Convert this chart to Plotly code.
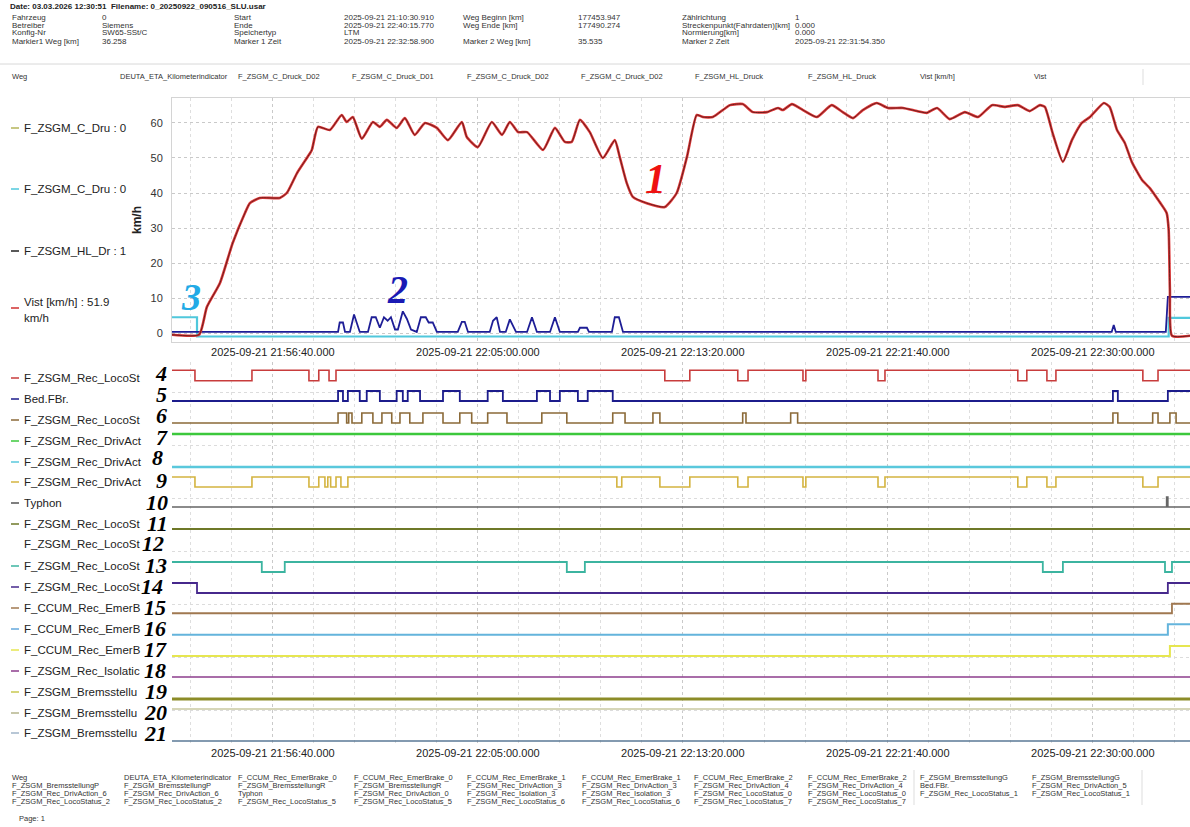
import pandas as pd
import plotly.graph_objects as go

W, H = 1190, 827
T_REF = pd.Timestamp("2025-09-21 21:56:40")
X_RANGE = ["2025-09-21 21:52:34", "2025-09-21 22:33:57"]
START_S, END_S = -246, 2237

# ---------------- upper panel data (seconds after 21:56:40) ----------------
vist_sec = [-246, -180, -161, -129, -98, -68, -56, -32, 17, 34, 59, 83, 95, 110, 139, 168, 180, 195,
            217, 244, 261, 278, 302, 322, 346, 371, 400, 427, 461, 473, 500, 534, 559, 578, 598, 620,
            659, 688, 712, 729, 749, 773, 805, 834, 846, 863, 878, 912, 956, 985, 1010, 1034, 1049,
            1073, 1115, 1146, 1171, 1205, 1232, 1244, 1266, 1293, 1327, 1363, 1390, 1415, 1439, 1473,
            1500, 1537, 1571, 1595, 1620, 1651, 1688, 1720, 1754, 1785, 1817, 1846, 1871, 1883, 1902,
            1927, 1949, 1973, 1993, 2027, 2041, 2059, 2078, 2095, 2120, 2139, 2163, 2180, 2185, 2188,
            2193, 2237]
vist_kmh = [-0.5, -0.5, 7.4, 14.3, 25.7, 34.3, 37.1, 38.6, 38.6, 40, 45.7, 50, 52.3, 58.9, 58, 62.3,
            60.3, 61.7, 55.5, 60.3, 58.9, 60.9, 58.6, 61.4, 56.6, 60, 58.6, 55.1, 60.3, 56, 53.1, 60.3,
            56.6, 60.3, 57.4, 57.4, 52.3, 58.6, 54.6, 54.6, 60.9, 57.4, 50, 55.1, 50.3, 42.9, 38.9,
            37.1, 36, 40, 50.3, 62.3, 61.7, 61.7, 65.1, 65.4, 63.1, 63.1, 64.3, 63.7, 65.4, 63.7, 61.7,
            65.1, 63.1, 61.4, 63.7, 65.7, 64.3, 64.3, 63.4, 62.9, 64.3, 61.1, 63.1, 61.7, 65.1, 64.6,
            65.1, 63.4, 65.1, 64.6, 57.1, 48.9, 55.1, 60, 61.7, 65.7, 64.6, 58, 54.3, 48.9, 43.7, 41.4,
            37.4, 34.3, 29.4, 12.3, -0.8, -0.8]

hl_sec = [-246, 159, 163, 171, 176, 188, 198, 205, 212, 232, 241, 251, 261, 271, 280, 288, 298, 305,
          317, 327, 337, 351, 361, 373, 380, 390, 400, 451, 461, 468, 476, 529, 537, 546, 554, 568,
          578, 593, 620, 632, 644, 676, 688, 700, 744, 749, 766, 771, 827, 834, 844, 854, 2046, 2051,
          2056, 2178, 2183, 2237]
hl_val = [0.3, 0.3, 3, 3, 0.3, 0.3, 5.3, 3, 0.3, 0.3, 4.5, 4.5, 1.5, 4.5, 3.5, 4.5, 1, 1,
          6.2, 4, 1, 0.3, 4.5, 4.5, 3, 3, 0.3, 0.3, 3.2, 3.2, 0.3, 0.3, 3.5, 4.5, 0.3, 0.3,
          3.9, 0.3, 0.3, 4.5, 0.3, 0.3, 4.5, 0.3, 0.3, 1.5, 1.5, 0.3, 0.3, 4.5, 4.5, 0.3, 0.3, 2.3,
          0.3, 0.3, 10.3, 10.3]

cdru_sec = [-246, -185, 2185, 2237]
cdru_val = [4.5, -1.0, 4.3, 4.3]

# ---------------- lower panel: digital signals (initial state, switching instants in s) -------
sig04_init, sig04_sw = 1, [-190, -51, 88, 112, 137, 154, 956, 1017, 1134, 1159, 1293, 1300,
                           1476, 1493, 1817, 1839, 1888, 1910, 2122, 2159]
sig05_init, sig05_sw = 0, [159, 171, 183, 212, 229, 261, 302, 317, 329, 359, 415, 456, 524, 561,
                           644, 676, 700, 744, 768, 829, 2049, 2061, 2183]
sig06_init, sig06_sw = 0, [159, 180, 185, 193, 217, 244, 266, 290, 310, 334, 366, 415, 456, 485,
                           524, 571, 656, 717, 829, 859, 927, 944, 1146, 1154, 1263, 1280, 2049,
                           2061, 2146, 2159, 2188, 2203]
sig07_init, sig07_sw = 0, []
sig08_init, sig08_sw = 0, []
sig09_init, sig09_sw = 1, [-190, -51, 88, 112, 127, 134, 141, 154, 166, 183, 839, 851, 944, 1017,
                           1134, 1159, 1293, 1300, 1476, 1493, 1817, 1839, 1888, 1910, 2122, 2159]
sig10_init, sig10_sw = 0, [2180, 2183]
sig11_init, sig11_sw = 0, []
sig13_init, sig13_sw = 1, [-27, 29, 717, 761, 1878, 1927, 2176, 2193]
sig14_init, sig14_sw = 1, [-185, 2183]
sig15_init, sig15_sw = 0, [2193]
sig16_init, sig16_sw = 0, [2183]
sig17_init, sig17_sw = 0, [2188]
sig18_init, sig18_sw = 0, []
sig19_init, sig19_sw = 0, []
sig20_init, sig20_sw = 0, []
sig21_init, sig21_sw = 0, []

row_labels = ["F_ZSGM_Rec_LocoSt", "Bed.FBr.", "F_ZSGM_Rec_LocoSt", "F_ZSGM_Rec_DrivAct",
              "F_ZSGM_Rec_DrivAct", "F_ZSGM_Rec_DrivAct", "Typhon", "F_ZSGM_Rec_LocoSt",
              "F_ZSGM_Rec_LocoSt", "F_ZSGM_Rec_LocoSt", "F_ZSGM_Rec_LocoSt", "F_CCUM_Rec_EmerB",
              "F_CCUM_Rec_EmerB", "F_CCUM_Rec_EmerB", "F_ZSGM_Rec_Isolatic", "F_ZSGM_Bremsstellu",
              "F_ZSGM_Bremsstellu", "F_ZSGM_Bremsstellu"]
signals = [(sig04_init, sig04_sw), (sig05_init, sig05_sw), (sig06_init, sig06_sw),
           (sig07_init, sig07_sw), (sig08_init, sig08_sw), (sig09_init, sig09_sw),
           (sig10_init, sig10_sw), (sig11_init, sig11_sw), None,
           (sig13_init, sig13_sw), (sig14_init, sig14_sw), (sig15_init, sig15_sw),
           (sig16_init, sig16_sw), (sig17_init, sig17_sw), (sig18_init, sig18_sw),
           (sig19_init, sig19_sw), (sig20_init, sig20_sw), (sig21_init, sig21_sw)]

header_top = "Date: 03.03.2026 12:30:51  Filename: 0_20250922_090516_SLU.usar"
header_cols = [
    ["Fahrzeug", "Betreiber", "Konfig-Nr", "Markier1 Weg [km]"],
    ["0", "Siemens", "SW65-SSt/C", "36.258"],
    ["Start", "Ende", "Speichertyp", "Marker 1 Zeit"],
    ["2025-09-21 21:10:30.910", "2025-09-21 22:40:15.770", "LTM", "2025-09-21 22:32:58.900"],
    ["Weg Beginn [km]", "Weg Ende [km]", "", "Marker 2 Weg [km]"],
    ["177453.947", "177490.274", "", "35.535"],
    ["Zählrichtung", "Streckenpunkt(Fahrdaten)[km]", "Normierung[km]", "Marker 2 Zeit"],
    ["1", "0.000", "0.000", "2025-09-21 22:31:54.350"],
]
channel_names = ["Weg", "DEUTA_ETA_Kilometerindicator", "F_ZSGM_C_Druck_D02", "F_ZSGM_C_Druck_D01",
                 "F_ZSGM_C_Druck_D02", "F_ZSGM_C_Druck_D02", "F_ZSGM_HL_Druck", "F_ZSGM_HL_Druck",
                 "Vist [km/h]", "Vist"]
footer_cols = [
    ["Weg", "F_ZSGM_BremsstellungP", "F_ZSGM_Rec_DrivAction_6", "F_ZSGM_Rec_LocoStatus_2"],
    ["DEUTA_ETA_Kilometerindicator", "F_ZSGM_BremsstellungP", "F_ZSGM_Rec_DrivAction_6", "F_ZSGM_Rec_LocoStatus_2"],
    ["F_CCUM_Rec_EmerBrake_0", "F_ZSGM_BremsstellungR", "Typhon", "F_ZSGM_Rec_LocoStatus_5"],
    ["F_CCUM_Rec_EmerBrake_0", "F_ZSGM_BremsstellungR", "F_ZSGM_Rec_DrivAction_0", "F_ZSGM_Rec_LocoStatus_5"],
    ["F_CCUM_Rec_EmerBrake_1", "F_ZSGM_Rec_DrivAction_3", "F_ZSGM_Rec_Isolation_3", "F_ZSGM_Rec_LocoStatus_6"],
    ["F_CCUM_Rec_EmerBrake_1", "F_ZSGM_Rec_DrivAction_3", "F_ZSGM_Rec_Isolation_3", "F_ZSGM_Rec_LocoStatus_6"],
    ["F_CCUM_Rec_EmerBrake_2", "F_ZSGM_Rec_DrivAction_4", "F_ZSGM_Rec_LocoStatus_0", "F_ZSGM_Rec_LocoStatus_7"],
    ["F_CCUM_Rec_EmerBrake_2", "F_ZSGM_Rec_DrivAction_4", "F_ZSGM_Rec_LocoStatus_0", "F_ZSGM_Rec_LocoStatus_7"],
    ["F_ZSGM_BremsstellungG", "Bed.FBr.", "F_ZSGM_Rec_LocoStatus_1"],
    ["F_ZSGM_BremsstellungG", "F_ZSGM_Rec_DrivAction_5", "F_ZSGM_Rec_LocoStatus_1"],
]

# ---------------- styles / layout ----------------
SANS = "Liberation Sans, Arial, sans-serif"
SERIF = "Liberation Serif, Times New Roman, serif"
GRID = "#c9c9c9"
LAB = 11.5

# per row: dash colour, line colour, width, y px of state 0, y px of state 1, label y, number x, number y
row_style = [
    ("#c83c3c", "#c83c3c", 1.6, 381, 370, 378, 161, 373),
    ("#1c1c8c", "#1c1c8c", 1.8, 401, 391, 399, 161, 394),
    ("#8b6a38", "#8b6a38", 1.6, 423, 413, 420, 161, 415),
    ("#3cc83c", "#3cc83c", 2.4, 434, 424, 441, 162, 437),
    ("#5ac8dc", "#5ac8dc", 2.4, 467, 457, 462, 157, 458),
    ("#d4b440", "#d4b440", 1.6, 487, 477, 482, 161, 480),
    ("#555555", "#666666", 1.6, 507, 497, 503, 157, 502),
    ("#6e7828", "#6e7828", 1.8, 529, 519, 524, 157, 523),
    (None, None, 0, 551, 541, 544, 153, 543),
    ("#3cb4a0", "#3cb4a0", 1.8, 572, 562, 566, 156, 565),
    ("#46288c", "#46288c", 1.8, 593, 583, 587, 152, 586),
    ("#a07850", "#a07850", 1.8, 613, 604, 608, 155, 607),
    ("#64a8dc", "#64b4dc", 2.0, 635, 624, 629, 155, 628),
    ("#e6e650", "#e6e650", 2.0, 656, 646, 650, 155, 649),
    ("#8c3c8c", "#8c3c8c", 1.6, 677, 667, 671, 155, 670),
    ("#c8c850", "#8c8c28", 3.2, 699, 689, 692, 156, 691),
    ("#b4b48c", "#c8c8a0", 1.6, 709, 699, 713, 155, 712),
    ("#a0b4c8", "#5a7896", 1.6, 741, 731, 733, 155, 733),
]

UP_TOP, UP_BOT = 98, 342
LO_TOP, LO_BOT = 362, 745
X_LEFT = 172


def pdom(top, bot):
    return [1 - bot / H, 1 - top / H]


def tstamps(secs):
    return [T_REF + pd.Timedelta(seconds=s) for s in secs]


def steps(init, sw):
    xs, ys, s = [START_S], [init], init
    for t in sw:
        s = 1 - s
        xs.append(t)
        ys.append(s)
    xs.append(END_S)
    ys.append(s)
    return xs, ys


fig = go.Figure()

# upper panel traces
fig.add_trace(go.Scatter(x=tstamps(cdru_sec), y=cdru_val, mode="lines", line=dict(color="#50c8dc", width=2.2, shape="hv"),
                         xaxis="x", yaxis="y", hoverinfo="skip"))
fig.add_trace(go.Scatter(x=tstamps(hl_sec), y=hl_val, mode="lines", line=dict(color="#1e1e96", width=1.8),
                         xaxis="x", yaxis="y", hoverinfo="skip"))
fig.add_trace(go.Scatter(x=tstamps(vist_sec), y=vist_kmh, mode="lines",
                         line=dict(color="#e03a3a", width=2.6, shape="spline", smoothing=0.5),
                         xaxis="x", yaxis="y", hoverinfo="skip"))
fig.add_trace(go.Scatter(x=tstamps(vist_sec), y=vist_kmh, mode="lines",
                         line=dict(color="#6a1c1c", width=1.0, shape="spline", smoothing=0.5),
                         xaxis="x", yaxis="y", hoverinfo="skip"))

# lower grid holder
fig.add_trace(go.Scatter(x=[X_RANGE[0]], y=[0], mode="markers", marker=dict(opacity=0),
                         xaxis="x2", yaxis="y2", hoverinfo="skip"))

layout_axes = {}
axis_n = 3
for sig, st in zip(signals, row_style):
    if sig is None:
        continue
    dash_c, line_c, lw, y0, y1 = st[0], st[1], st[2], st[3], st[4]
    xs, ys = steps(*sig)
    name = f"y{axis_n}"
    fig.add_trace(go.Scatter(x=tstamps(xs), y=ys, mode="lines",
                             line=dict(color=line_c, width=lw, shape="hv"),
                             xaxis="x3", yaxis=name, hoverinfo="skip"))
    layout_axes[f"yaxis{axis_n}"] = dict(domain=pdom(y1 - 5, y0 + 5), range=[-0.5, 1.5], visible=False,
                                         anchor="x3", fixedrange=True)
    axis_n += 1

xcommon = dict(type="date", range=X_RANGE, tick0="2025-09-21 21:56:40", dtick=500000,
               tickformat="%Y-%m-%d %H:%M:%S.%L", tickfont=dict(family=SANS, size=11, color="#222"),
               showgrid=True, gridcolor=GRID, griddash="dot", gridwidth=1, zeroline=False,
               minor=dict(dtick=100000, tick0="2025-09-21 21:56:40", showgrid=True, gridcolor="#dedede",
                          griddash="dot", gridwidth=1),
               ticks="", domain=[X_LEFT / W, 1])

fig.update_layout(
    width=W, height=H, margin=dict(l=0, r=0, t=0, b=0),
    paper_bgcolor="white", plot_bgcolor="rgba(0,0,0,0)", showlegend=False,
    xaxis=dict(**xcommon, anchor="y", showline=True, mirror=True, linecolor="#d4d4d4"),
    yaxis=dict(domain=pdom(UP_TOP, UP_BOT), range=[-2.57, 67.14],
               tickvals=[0, 10, 20, 30, 40, 50, 60], tickfont=dict(family=SANS, size=11, color="#333"),
               showgrid=True, gridcolor=GRID, griddash="dot", zeroline=False, anchor="x",
               showline=True, mirror=True, linecolor="#d4d4d4", ticklabelstandoff=6,
               title=dict(text="<b>km/h</b>", font=dict(family=SANS, size=12, color="#222"), standoff=6)),
    xaxis2=dict(**xcommon, anchor="y2"),
    yaxis2=dict(domain=pdom(LO_TOP, LO_BOT), range=[0, LO_BOT - LO_TOP], anchor="x2",
                tickvals=[35, 88, 141, 194, 247, 300, 353], showticklabels=False, ticks="",
                showgrid=True, gridcolor="#dcdcdc", griddash="dot", zeroline=False),
    xaxis3=dict(type="date", range=X_RANGE, domain=[X_LEFT / W, 1], visible=False, anchor="y3"),
    **layout_axes,
)

ann = []
shapes = []


def text(t, x, y, size, color="#222", family=SANS, xanchor="left", yanchor="middle", pad=1):
    ann.append(dict(text=t, x=x / W, y=1 - y / H, xref="paper", yref="paper", showarrow=False,
                    xanchor=xanchor, yanchor=yanchor, borderpad=pad,
                    font=dict(family=family, size=size, color=color)))


def dash(x0, x1, y, color, w=1.5):
    shapes.append(dict(type="line", xref="paper", yref="paper", x0=x0 / W, x1=x1 / W,
                       y0=1 - y / H, y1=1 - y / H, line=dict(color=color, width=w)))


# header
text("<b>" + header_top + "</b>", 8, 7, 8)
hdr_x = [10, 100, 232, 342, 461, 576, 680, 793]
hdr_y = [17, 25, 33, 41]
for cx, col in zip(hdr_x, header_cols):
    for cy, t in zip(hdr_y, col):
        if t:
            text(t, cx, cy, 8, "#333")
shapes.append(dict(type="line", xref="paper", yref="paper", x0=0, x1=1, y0=1 - 64 / H, y1=1 - 64 / H,
                   line=dict(color="#d8d8d8", width=1)))
ch_x = [10, 118, 236, 350, 465, 579, 693, 806, 918, 1032]
for cx, t in zip(ch_x, channel_names):
    text(t, cx, 77, 7.5, "#333")
shapes.append(dict(type="line", xref="paper", yref="paper", x0=1143 / W, x1=1143 / W,
                   y0=1 - 69 / H, y1=1 - 85 / H, line=dict(color="#dddddd", width=1)))

# upper legend
up_leg = [("F_ZSGM_C_Dru : 0", "#b4b45a", 128), ("F_ZSGM_C_Dru : 0", "#50c8dc", 189),
          ("F_ZSGM_HL_Dr : 1", "#222222", 251), ("Vist [km/h] : 51.9", "#d03030", 302)]
for t, c, y in up_leg:
    text(t, 22, y, LAB, "#222")
    dash(11, 19, y + (6 if t.startswith("Vist") else 0), c)
text("km/h", 22, 318, LAB, "#222")

# lower legend
for lab, st in zip(row_labels, row_style):
    text(lab, 22, st[5], LAB, "#222")
    if st[0]:
        dash(11, 19, st[5], st[0])

# marker numbers
text("<b><i>1</i></b>", 655, 179, 42, "#ee1111", SERIF, "center")
text("<b><i>2</i></b>", 397, 289, 40, "#1a1ab4", SERIF, "center")
text("<b><i>3</i></b>", 191, 297, 38, "#22aae6", SERIF, "center")
for i, st in enumerate(row_style):
    text(f"<b><i>{i + 4}</i></b>", st[6], st[7], 22, "#000", SERIF, "center", pad=0)

# footer
ft_x = [10, 122, 236, 352, 465, 580, 692, 806, 918, 1030]
ft_y = [777, 785, 793, 801]
for cx, col in zip(ft_x, footer_cols):
    for cy, t in zip(ft_y, col):
        text(t, cx, cy, 7.5, "#333")
for vx in (914, 1142):
    shapes.append(dict(type="line", xref="paper", yref="paper", x0=vx / W, x1=vx / W,
                       y0=1 - 770 / H, y1=1 - 805 / H, line=dict(color="#dddddd", width=1)))
text("Page: 1", 17, 818, 7.5, "#333")

fig.update_layout(annotations=ann, shapes=shapes)
fig.write_html("out.html")
